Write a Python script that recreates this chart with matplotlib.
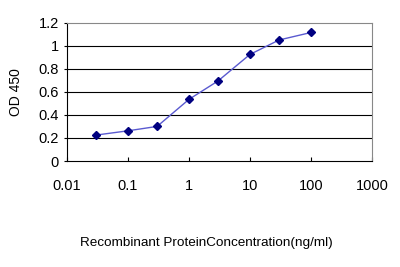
import matplotlib.pyplot as plt

# concentration (ng/ml) vs OD 450
conc = [0.03, 0.1, 0.3, 1, 3, 10, 30, 100]
od450 = [0.225, 0.262, 0.30, 0.535, 0.695, 0.925, 1.05, 1.115]
y_ticks = [0, 0.2, 0.4, 0.6, 0.8, 1, 1.2]
x_ticks = [0.01, 0.1, 1, 10, 100, 1000]
x_labels = ['0.01', '0.1', '1', '10', '100', '1000']

plt.rcParams['font.family'] = ['Liberation Sans', 'DejaVu Sans']

fig = plt.figure(figsize=(4, 2.67), dpi=100)
ax = fig.add_axes([0.1675, 0.397, 0.7625, 0.518])

ax.plot(conc, od450, color='#5a5ad0', lw=1, marker='D', ms=4.5,
        mfc='#000080', mec='#000080', zorder=3)

ax.set_xscale('log')
ax.set_xlim(0.01, 1000)
ax.set_ylim(0, 1.2)
ax.set_xticks(x_ticks)
ax.set_xticklabels(x_labels)
ax.minorticks_off()
ax.set_yticks(y_ticks)
ax.set_yticklabels(['0', '0.2', '0.4', '0.6', '0.8', '1', '1.2'])

for v in y_ticks[1:-1]:
    ax.axhline(v, color='black', lw=0.8, zorder=1)

for s in ['top', 'right']:
    ax.spines[s].set_color('#888888')
for s in ['left', 'bottom']:
    ax.spines[s].set_color('black')
for s in ax.spines.values():
    s.set_linewidth(0.8)

ax.tick_params(axis='x', direction='in', length=3, labelsize=10.5, pad=13)
ax.tick_params(axis='y', direction='out', length=2, labelsize=10.5, pad=4)

ax.set_ylabel('OD 450', fontsize=10, labelpad=11)
fig.text(0.515, 0.09, 'Recombinant ProteinConcentration(ng/ml)',
         ha='center', va='center', fontsize=9.7)

fig.savefig('out.png', dpi=100)
